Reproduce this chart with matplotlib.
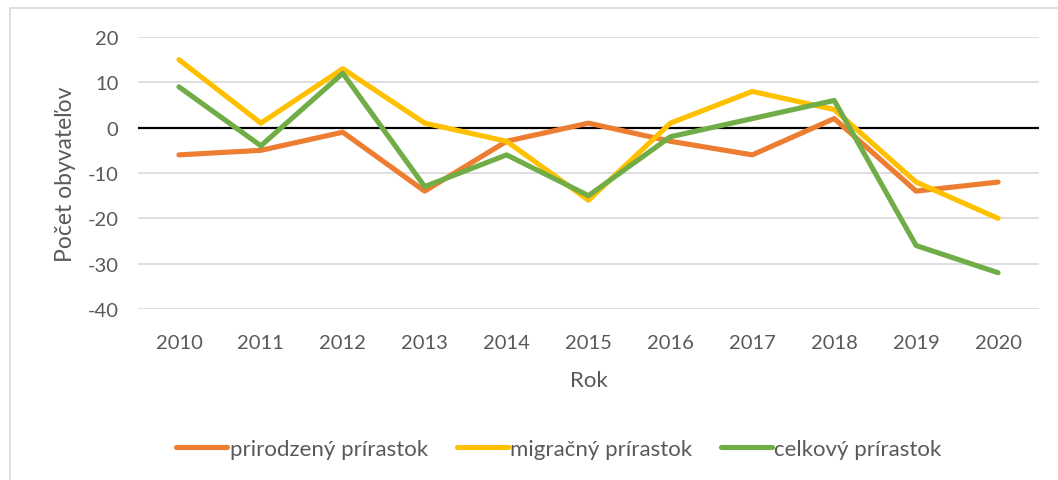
import matplotlib.pyplot as plt
from matplotlib.patches import Rectangle

roky = [2010, 2011, 2012, 2013, 2014, 2015, 2016, 2017, 2018, 2019, 2020]
prirodzeny = [-6, -5, -1, -14, -3, 1, -3, -6, 2, -14, -12]
migracny = [15, 1, 13, 1, -3, -16, 1, 8, 4, -12, -20]
celkovy = [9, -4, 12, -13, -6, -15, -2, 2, 6, -26, -32]

plt.rcParams['font.family'] = ['Lato', 'DejaVu Sans']
plt.rcParams['axes.unicode_minus'] = False
sivy = '#595959'

fig = plt.figure(figsize=(10.58, 4.81), dpi=100)
# ramik okolo grafu
fig.patches.append(Rectangle((10 / 1058, -0.1), 1.2, 1 - 9 / 481 + 0.1,
                             transform=fig.transFigure, fill=False,
                             edgecolor='#d9d9d9', linewidth=1.2))

ax = fig.add_axes([138 / 1058, 1 - 310 / 481, 901 / 1058, 272 / 481])

ax.plot(roky, prirodzeny, color='#ed7d31', linewidth=3.7, label='prirodzený prírastok', solid_capstyle='round')
ax.plot(roky, migracny, color='#ffc000', linewidth=3.7, label='migračný prírastok', solid_capstyle='round')
ax.plot(roky, celkovy, color='#70ad47', linewidth=3.7, label='celkový prírastok', solid_capstyle='round')
ax.axhline(0, color='black', linewidth=1.6, zorder=1)

ax.set_xlim(2009.5, 2020.5)
ax.set_ylim(-40, 20)
ax.set_yticks(range(-40, 21, 10))
ax.set_xticks(roky)
ax.grid(axis='y', color='#d9d9d9', linewidth=1.2)
ax.set_axisbelow(True)
for s in ax.spines.values():
    s.set_visible(False)
ax.tick_params(length=0, labelsize=14.5, labelcolor=sivy, pad=14)
ax.tick_params(axis='x', pad=18)

ax.set_xlabel('Rok', fontsize=16, color=sivy, labelpad=14)
ax.set_ylabel('Počet obyvateľov', fontsize=16.5, color=sivy, labelpad=8)

fig.legend(loc='center', bbox_to_anchor=(559 / 1058, 1 - 450 / 481), ncol=3,
           frameon=False, fontsize=16, labelcolor=sivy, handlelength=2.3,
           handletextpad=0.1, columnspacing=1.3)

fig.savefig('out.png', dpi=100)
